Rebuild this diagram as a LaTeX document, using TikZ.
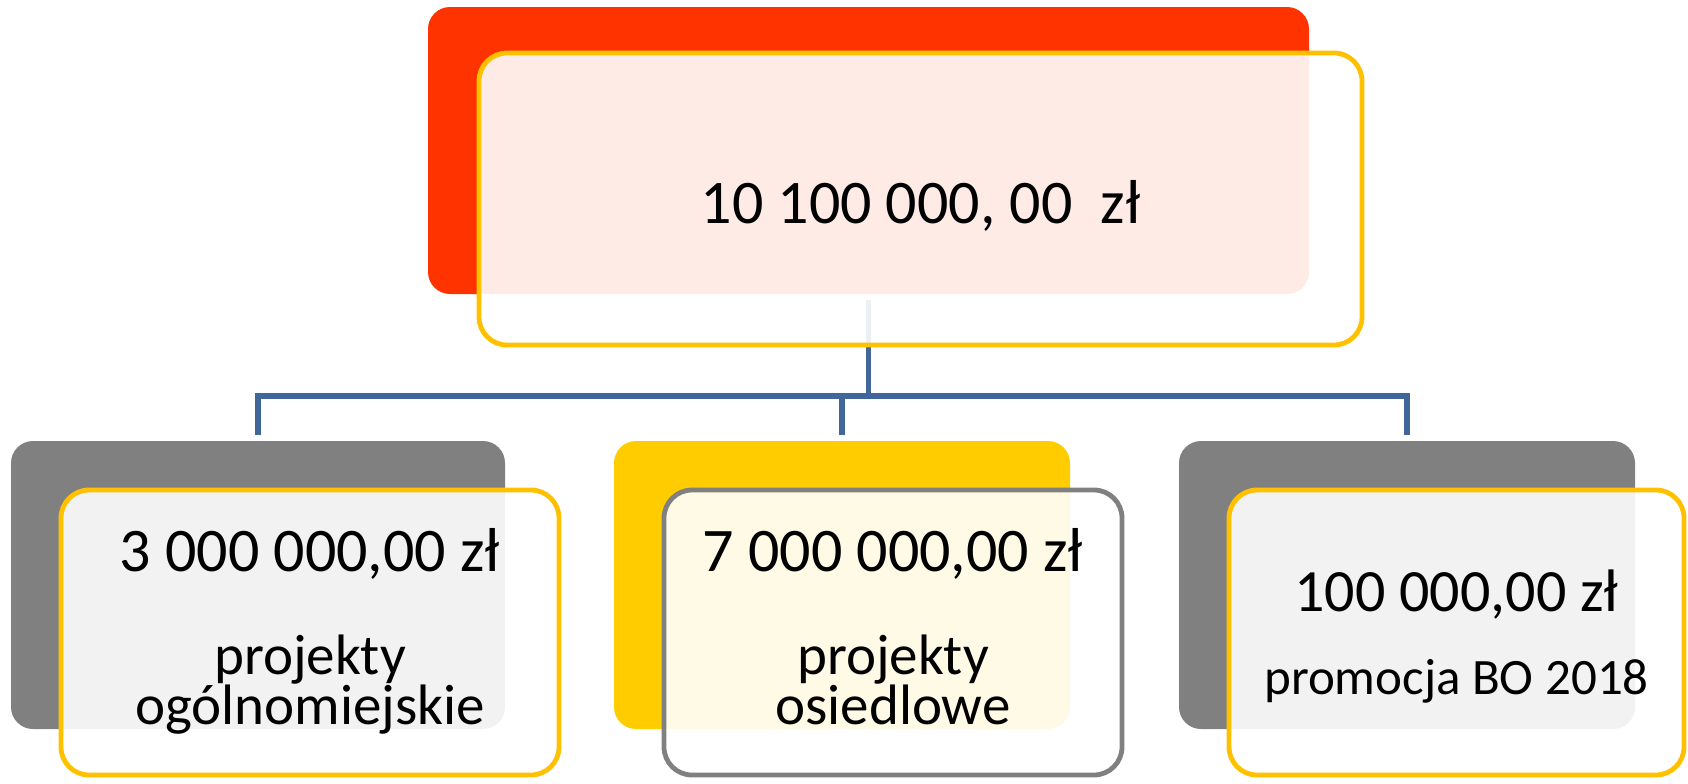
\documentclass[tikz,border=0pt]{standalone}
\usepackage{fontspec}
\setmainfont{Carlito}
\definecolor{topred}{RGB}{255,51,0}
\definecolor{boxgray}{RGB}{128,128,128}
\definecolor{boxyellow}{RGB}{255,204,0}
\definecolor{lineyellow}{RGB}{255,192,0}
\definecolor{connblue}{RGB}{65,103,154}
\begin{document}
\begin{tikzpicture}[x=0.5pt,y=-0.5pt,
  backbox/.style={rectangle, rounded corners=11pt, inner sep=0pt, outer sep=0pt, draw=none},
  frontbox/.style={rectangle, rounded corners=14pt, inner sep=0pt, outer sep=0pt, fill=white, fill opacity=0.9, draw opacity=1, line width=2.4pt},
  conn/.style={draw=connblue, line width=2.8pt, line join=miter},
  amt/.style={font=\fontsize{31}{37}\selectfont, anchor=base, inner sep=0pt},
  amtr/.style={font=\fontsize{30}{36}\selectfont, anchor=base, inner sep=0pt},
  lbl/.style={font=\fontsize{28.5}{24.75}\selectfont, anchor=base, inner sep=0pt, align=center},
  lbls/.style={font=\fontsize{25.5}{30}\selectfont, anchor=base, inner sep=0pt}]
\useasboundingbox (0,0) rectangle (1688,783);
% back boxes
\node[backbox, fill=topred, minimum width=440.5pt, minimum height=143.5pt] (tb) at (868.5,150.5) {};
\node[backbox, fill=boxgray, minimum width=247pt, minimum height=144pt] (lb) at (258,585) {};
\node[backbox, fill=boxyellow, minimum width=228pt, minimum height=144pt] (mb) at (842,585) {};
\node[backbox, fill=boxgray, minimum width=228pt, minimum height=144pt] (rb) at (1407,585) {};
% connectors
\coordinate (j) at (868.5,396);
\draw[conn] ([yshift=-3pt]tb.south) -- (j);
\draw[conn] (j) -| ([yshift=3pt]lb.north);
\draw[conn] (j) -| ([yshift=3pt]mb.north);
\draw[conn] (j) -| ([yshift=3pt]rb.north);
% front boxes
\node[frontbox, draw=lineyellow, minimum width=441.5pt, minimum height=146pt] (tf) at (920.5,199) {};
\node[frontbox, draw=lineyellow, minimum width=249pt, minimum height=142.5pt] (lf) at (310,632.5) {};
\node[frontbox, draw=boxgray, minimum width=229pt, minimum height=142.5pt] (mf) at (893,632.5) {};
\node[frontbox, draw=lineyellow, minimum width=227.5pt, minimum height=142.5pt] (rf) at (1456.5,632.5) {};
% texts
\node[amt] (t0) at (920.5,223) {10 100 000, 00\ \ zł};
\node[amt] (t1) at (310,571) {3 000 000,00 zł};
\node[lbl] (t1a) at (310,724) {projekty\\ogólnomiejskie};
\node[amt] (t2) at (893,571) {7 000 000,00 zł};
\node[lbl] (t2a) at (893,724) {projekty\\osiedlowe};
\node[amtr] (t3) at (1456.5,611) {100 000,00 zł};
\node[lbls] (t3a) at (1456.5,694) {promocja BO 2018};
\end{tikzpicture}
\end{document}
